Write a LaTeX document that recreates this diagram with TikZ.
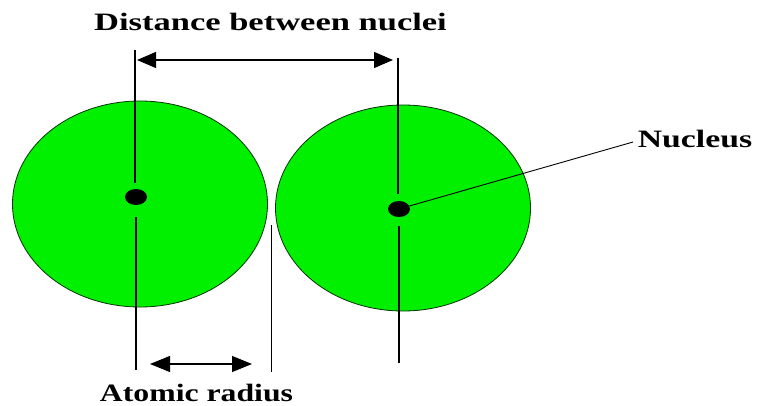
\documentclass[tikz,border=0pt]{standalone}
\usepackage{fontspec}
\setmainfont{Liberation Serif}
\usetikzlibrary{shapes.geometric,arrows.meta}
\definecolor{atomgreen}{RGB}{0,240,0}
\begin{document}
\begin{tikzpicture}[x=1pt,y=-1pt,
  atom/.style={ellipse,draw=black!80!green,line width=0.8pt,fill=atomgreen,
    minimum width=255pt,minimum height=206pt,inner sep=0pt},
  nuc/.style={ellipse,fill=black,minimum width=22pt,minimum height=16pt,inner sep=0pt},
  guide/.style={line width=1.1pt,black},
  dimtop/.style={line width=1.1pt,{Triangle[length=19pt,width=16pt]}-{Triangle[length=19pt,width=16pt]}},
  dimbot/.style={line width=1.1pt,{Triangle[length=20pt,width=16pt]}-{Triangle[length=20pt,width=16pt]}},
  lab/.style={font=\bfseries\fontsize{25}{25}\selectfont,anchor=base,inner sep=0pt}]
\useasboundingbox (0,0) rectangle (757,406);
\fill[white] (0,0) rectangle (757,406);
% atoms
\node[atom] (atomL) at (140,204) {};
\node[atom] (atomR) at (403,208) {};
% guide line coordinates
\coordinate (lTop) at (135,50);
\coordinate (lUp) at (135,183);
\coordinate (lDown) at (136,217);
\coordinate (lBot) at (136,370);
\coordinate (rTop) at (398,58);
\coordinate (rUp) at (398,194);
\coordinate (rDown) at (399,226);
\coordinate (rBot) at (399,363);
\coordinate (mTop) at (271.5,225);
\coordinate (mBot) at (271.5,372);
\coordinate (dA) at (137,60);
\coordinate (dB) at (393,60);
\coordinate (rA) at (150,364);
\coordinate (rB) at (252,364);
\coordinate (nucEnd) at (633,142);
% guide lines
\draw[guide] (lTop) -- (lUp);
\draw[guide] (lDown) -- (lBot);
\draw[guide] (rTop) -- (rUp);
\draw[guide] (rDown) -- (rBot);
\draw[guide] (mTop) -- (mBot);
% dimension arrows
\draw[dimtop] (dA) -- (dB);
\draw[dimbot] (rA) -- (rB);
% nuclei
\node[nuc] (nucL) at (136,197) {};
\node[nuc] (nucR) at (399,209) {};
\draw[line width=0.9pt] (nucR) -- (nucEnd);
% labels
\node[lab] (distLab) at (270.5,31) {\scalebox{1.38}[1]{Distance between nuclei}};
\node[lab] (radLab) at (196.5,401) {\scalebox{1.27}[1]{Atomic radius}};
\node[lab] (nucLab) at (695,148) {\scalebox{1.35}[1]{Nucleus}};
\end{tikzpicture}
\end{document}
